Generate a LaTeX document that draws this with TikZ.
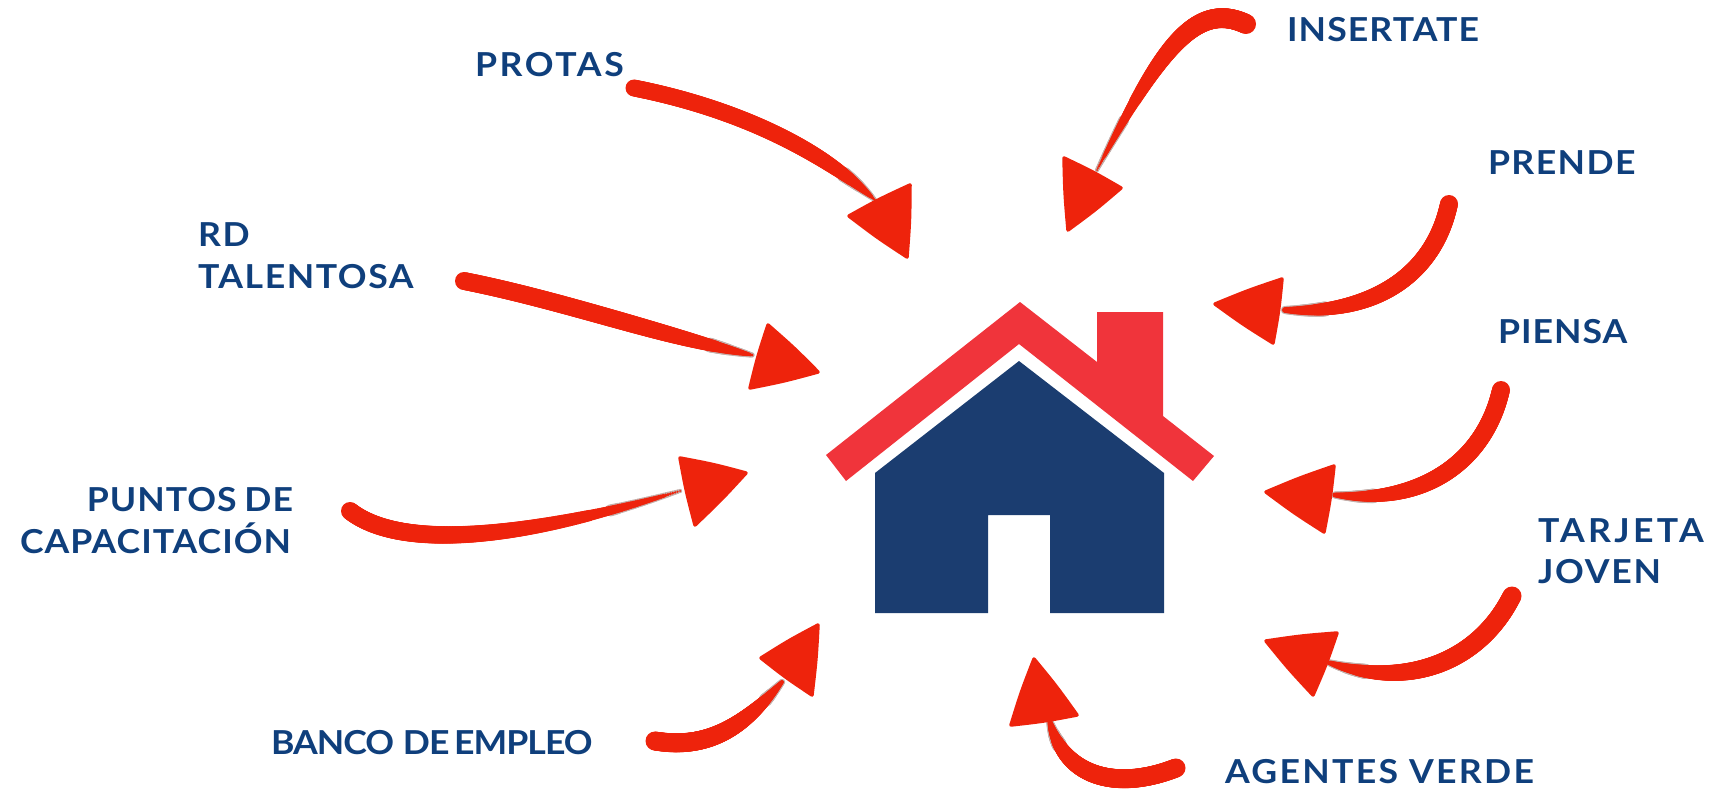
\documentclass[tikz,border=0pt]{standalone}
\usepackage{fontspec}
\usetikzlibrary{calc}
\setmainfont{Lato}[BoldFont={Lato Bold},BoldFeatures={FakeStretch=1.08}]
\definecolor{roofred}{HTML}{F0343B}
\definecolor{wallblue}{HTML}{1B3D70}
\definecolor{brushred}{HTML}{EE230C}
\definecolor{brushgrey}{HTML}{C4B0AC}
\definecolor{labelblue}{HTML}{0F3F7C}
\tikzset{
  roof/.style={fill=roofred},
  wall/.style={fill=wallblue},
  head/.style={fill=brushred,draw=brushred,line width=3.5pt,line join=round},
  lab/.style={text=labelblue,font=\fontsize{33}{42}\selectfont\bfseries\addfontfeature{LetterSpace=#1},inner sep=0pt,outer sep=0pt},
}
% tapered brush stroke along a cubic curve: start radius / end radius / taper power
\def\brushstroke(#1,#2)(#3,#4)(#5,#6)(#7,#8)#9{%
  \foreach \ra/\rb/\kk in {#9}{%
    \foreach \i in {170,171,...,200}{%
      \pgfmathsetmacro\tt{\i/200}\pgfmathsetmacro\uu{1-\tt}%
      \pgfmathsetmacro\px{\uu*\uu*\uu*#1+3*\uu*\uu*\tt*#3+3*\uu*\tt*\tt*#5+\tt*\tt*\tt*#7}%
      \pgfmathsetmacro\py{\uu*\uu*\uu*#2+3*\uu*\uu*\tt*#4+3*\uu*\tt*\tt*#6+\tt*\tt*\tt*#8}%
      \pgfmathsetmacro\rr{\ra-(\ra-\rb)*\tt^\kk+1.2}%
      \fill[brushgrey] (\px,\py) circle[radius=\rr pt];
    }%
    \foreach \i in {0,1,...,200}{%
      \pgfmathsetmacro\tt{\i/200}\pgfmathsetmacro\uu{1-\tt}%
      \pgfmathsetmacro\px{\uu*\uu*\uu*#1+3*\uu*\uu*\tt*#3+3*\uu*\tt*\tt*#5+\tt*\tt*\tt*#7}%
      \pgfmathsetmacro\py{\uu*\uu*\uu*#2+3*\uu*\uu*\tt*#4+3*\uu*\tt*\tt*#6+\tt*\tt*\tt*#8}%
      \pgfmathsetmacro\rr{\ra-(\ra-\rb)*\tt^\kk}%
      \fill[brushred] (\px,\py) circle[radius=\rr pt];
    }%
  }%
}
% arrow head with slightly bulging sides
\def\headtri(#1)(#2)(#3){%
  \path[head] (#1) .. controls ($(#1)!.5!(#2)!-.02!(#3)$) .. (#2)
    .. controls ($(#2)!.5!(#3)!-.02!(#1)$) .. (#3)
    .. controls ($(#3)!.5!(#1)!-.02!(#2)$) .. (#1) -- cycle;
}
\begin{document}
\begin{tikzpicture}[x=1pt,y=-1pt]
\useasboundingbox (0,0) rectangle (1711,789);
% house
\fill[roof] (1020,302) -- (1097,362) -- (1097,312) -- (1163,312) -- (1163,416) -- (1214,456) -- (1193,481) -- (1019,344) -- (846,481) -- (826,455) -- cycle;
\fill[wall] (1019,361) -- (1164,473) -- (1164,613) -- (1050,613) -- (1050,515) -- (988,515) -- (988,613) -- (875,613) -- (875,473) -- cycle;
% PROTAS arrow
\brushstroke(634,88)(720,105)(810,140)(875,200){8.5/1/8}
\headtri(849,216)(910,185)(907,257)
% INSERTATE arrow
\brushstroke(1246,24)(1195,0)(1160,50)(1097,170){10/1/3}
\headtri(1064,158)(1121,188)(1068,230)
% PRENDE arrow
\brushstroke(1449,204)(1435,270)(1380,315)(1285,310){9/3/5}
\headtri(1215,304)(1282,279)(1273,343)
% PIENSA arrow
\brushstroke(1501,390)(1485,460)(1425,505)(1335,495){9/2.5/5}
\headtri(1266,492)(1334,466)(1324,532)
% TARJETA arrow
\brushstroke(1512,596)(1480,660)(1410,690)(1330,663){9.5/2.5/5}
\headtri(1266,641)(1337,633)(1313,695)
% AGENTES arrow
\brushstroke(1176,768)(1120,790)(1065,780)(1050,722){9.5/2.5/5}
\headtri(1034,659)(1077,715)(1011,725)
% BANCO arrow
\brushstroke(655,741)(710,750)(745,725)(782,682){9.5/2/4}
\headtri(818,625)(761,658)(812,695)
% PUNTOS arrow
\brushstroke(350,511)(400,550)(520,540)(680,491){9/1/4}
\headtri(680,458)(746,473)(695,525)
% RD arrow
\brushstroke(464,281)(560,300)(660,335)(752,355){9/1.5/6}
\headtri(768,325)(818,372)(750,388)
% labels
\node[lab=8,anchor=base west] (protas) at (475,77) {PROTAS};
\node[lab=3.3,anchor=base west] (insertate) at (1287,42) {INSERTATE};
\node[lab=4.3,anchor=base west] (prende) at (1488,175) {PRENDE};
\node[lab=3,anchor=base west] (piensa) at (1498,343) {PIENSA};
\node[lab=10,anchor=base west] (tarjeta) at (1538,542) {TARJETA};
\node[lab=5.3,anchor=base west] (joven) at (1538,583) {JOVEN};
\node[lab=7,anchor=base west] (agentes) at (1225,783) {AGENTES VERDE};
\node[lab=-3,anchor=base west] (banco) at (271,754) {BANCO\kern1pt{} DE\kern-3pt{} EMPLEO};
\node[lab=3,anchor=base east] (puntos) at (293,511) {PUNTOS\kern-2pt{} DE};
\node[lab=3,anchor=base east] (capacitacion) at (291,553) {CAPACITACIÓN};
\node[lab=5,anchor=base west] (rd) at (198,246) {RD};
\node[lab=4.7,anchor=base west] (talentosa) at (198,288) {TALENTOSA};
\end{tikzpicture}
\end{document}
